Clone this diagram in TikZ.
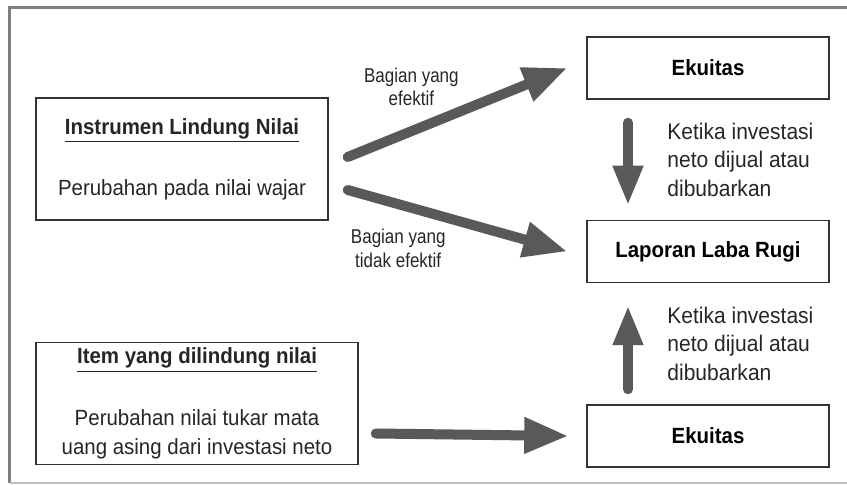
\documentclass[tikz,border=0pt]{standalone}
\usepackage{fontspec}
\setmainfont[FakeStretch=0.93]{Liberation Sans}
\newfontfamily\narrowsans[FakeStretch=0.85]{Liberation Sans}
\usetikzlibrary{calc,positioning,arrows.meta}

\begin{document}
\begin{tikzpicture}[
        x=0.5pt, y=-0.5pt,
        font=\fontsize{11}{14.5}\selectfont,
        box/.style={draw=black!80, line width=0.75pt, minimum width=121pt, minimum height=31pt, inner sep=0pt, align=center, font=\fontsize{11}{14.5}\selectfont\bfseries},
        bigbox/.style={draw=black!80, line width=0.75pt, minimum width=146pt, minimum height=61pt, inner sep=0pt, align=center, text=black!85},
        flow/.style={-{Triangle[length=22pt, width=17pt]}, line width=5pt, line cap=round, draw=black!65, fill=black!65},
        vflow/.style={flow, -{Triangle[length=20pt, width=14pt]}},
        lbl/.style={align=center, inner sep=0pt, font=\narrowsans\fontsize{10}{11.75}\selectfont, text=black!85},
        note/.style={align=left, anchor=west, inner sep=0pt, font=\fontsize{11.3}{14.25}\selectfont, text=black!85}
    ]

    % Frame
    \useasboundingbox (0,0) rectangle (847,485);
    \draw[gray, line width=1.5pt] (847,7.5) -- (9.5,7.5) -- (9.5,483);
    \draw[black!25, line width=0.75pt] (9.5,483) -- (847,483);

    % Left boxes
    \node[bigbox] (inst) at (182,159) {\underline{\textbf{Instrumen Lindung Nilai}}\\[16pt]Perubahan pada nilai wajar};
    \node[bigbox, minimum width=161pt, below right=60.5pt and 0pt of inst.south west] (item) {\underline{\textbf{Item yang dilindung nilai}}\\[16.5pt]Perubahan nilai tukar mata\\uang asing dari investasi neto};

    % Right column
    \node[box] (ekuA) at (708,68) {Ekuitas};
    \node[box, below=60pt of ekuA] (laba) {Laporan Laba Rugi};
    \node[box, below=60.5pt of laba] (ekuB) {Ekuitas};

    % Arrows
    \draw[flow] ([xshift=9.5pt, yshift=1pt]inst.east) -- node[lbl, pos=0.29, above=10pt] {Bagian yang\\efektif} ([xshift=-9.5pt]ekuA.west);
    \draw[flow] ([xshift=9.5pt, yshift=-15.5pt]inst.east) -- node[lbl, pos=0.23, below=10pt] {Bagian yang\\tidak efektif} ([xshift=-9.5pt]laba.west);
    \draw[flow] ([xshift=8.5pt, yshift=-15pt]item.east) -- ([xshift=-9pt]ekuB.west);
    \draw[vflow] ([xshift=-40pt, yshift=-11.5pt]ekuA.south) -- ([xshift=-40pt, yshift=7pt]laba.north);
    \draw[vflow] ([xshift=-40pt, yshift=7.5pt]ekuB.north) -- ([xshift=-40pt, yshift=-11pt]laba.south);

    % Notes
    \node[note] (whenA) at ($(ekuA.south)!0.5!(laba.north)+(-41,0)$) {Ketika investasi\\neto dijual atau\\dibubarkan};
    \node[note] (whenB) at ($(laba.south)!0.5!(ekuB.north)+(-41,0)$) {Ketika investasi\\neto dijual atau\\dibubarkan};

\end{tikzpicture}
\end{document}
